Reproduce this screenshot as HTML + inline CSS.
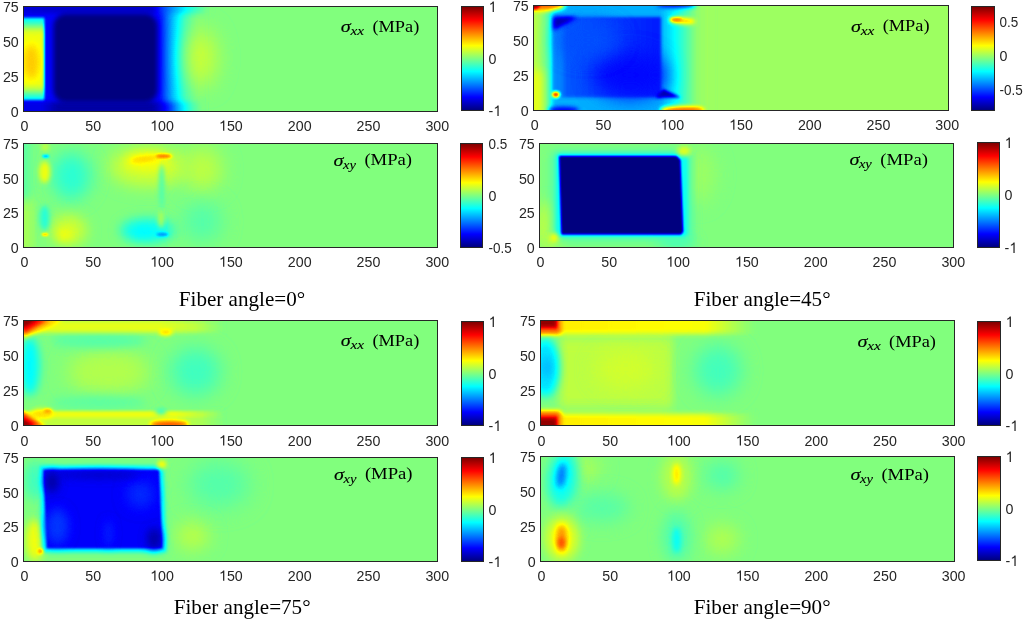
<!DOCTYPE html>
<html><head><meta charset="utf-8"><style>
html,body{margin:0;padding:0;background:#fff;}
body{width:1024px;height:630px;position:relative;overflow:hidden;font-family:"Liberation Sans",sans-serif;color:#262626;}
.ax{position:absolute;box-sizing:border-box;border:1px solid #262626;}
.hm{position:absolute;display:block;}
.cb{position:absolute;box-sizing:border-box;border:1px solid #262626;
background:linear-gradient(to bottom,#800000 0%,#ff0000 12.5%,#ff8000 25%,#ffff00 37.5%,#80ff80 50%,#00ffff 62.5%,#0080ff 75%,#0000ff 87.5%,#000080 100%);}
</style></head><body>
<svg width="0" height="0" style="position:absolute">
<defs>
<filter id="jet" x="0" y="0" width="100%" height="100%" color-interpolation-filters="sRGB">
<feComponentTransfer>
<feFuncR type="table" tableValues="0 0 0 0 0.5 1 1 1 0.5"/>
<feFuncG type="table" tableValues="0 0 0.5 1 1 1 0.5 0 0"/>
<feFuncB type="table" tableValues="0.5 1 1 1 0.5 0 0 0 0"/>
</feComponentTransfer>
</filter>
<filter id="b0_9x1_2" filterUnits="userSpaceOnUse" x="-200" y="-200" width="700" height="475" color-interpolation-filters="sRGB"><feGaussianBlur stdDeviation="0.9 1.2"/></filter>
<filter id="b0_9x3_5" filterUnits="userSpaceOnUse" x="-200" y="-200" width="700" height="475" color-interpolation-filters="sRGB"><feGaussianBlur stdDeviation="0.9 3.5"/></filter>
<filter id="b3x5" filterUnits="userSpaceOnUse" x="-200" y="-200" width="700" height="475" color-interpolation-filters="sRGB"><feGaussianBlur stdDeviation="3 5"/></filter>
<filter id="b0_7" filterUnits="userSpaceOnUse" x="-200" y="-200" width="700" height="475" color-interpolation-filters="sRGB"><feGaussianBlur stdDeviation="0.7"/></filter>
<filter id="b0_8" filterUnits="userSpaceOnUse" x="-200" y="-200" width="700" height="475" color-interpolation-filters="sRGB"><feGaussianBlur stdDeviation="0.8"/></filter>
<filter id="b1" filterUnits="userSpaceOnUse" x="-200" y="-200" width="700" height="475" color-interpolation-filters="sRGB"><feGaussianBlur stdDeviation="1"/></filter>
<filter id="b1_2" filterUnits="userSpaceOnUse" x="-200" y="-200" width="700" height="475" color-interpolation-filters="sRGB"><feGaussianBlur stdDeviation="1.2"/></filter>
<filter id="b1_3" filterUnits="userSpaceOnUse" x="-200" y="-200" width="700" height="475" color-interpolation-filters="sRGB"><feGaussianBlur stdDeviation="1.3"/></filter>
<filter id="b1_5" filterUnits="userSpaceOnUse" x="-200" y="-200" width="700" height="475" color-interpolation-filters="sRGB"><feGaussianBlur stdDeviation="1.5"/></filter>
<filter id="b2" filterUnits="userSpaceOnUse" x="-200" y="-200" width="700" height="475" color-interpolation-filters="sRGB"><feGaussianBlur stdDeviation="2"/></filter>
<filter id="b2_2" filterUnits="userSpaceOnUse" x="-200" y="-200" width="700" height="475" color-interpolation-filters="sRGB"><feGaussianBlur stdDeviation="2.2"/></filter>
<filter id="b2_5" filterUnits="userSpaceOnUse" x="-200" y="-200" width="700" height="475" color-interpolation-filters="sRGB"><feGaussianBlur stdDeviation="2.5"/></filter>
<filter id="b3" filterUnits="userSpaceOnUse" x="-200" y="-200" width="700" height="475" color-interpolation-filters="sRGB"><feGaussianBlur stdDeviation="3"/></filter>
<filter id="b3_5" filterUnits="userSpaceOnUse" x="-200" y="-200" width="700" height="475" color-interpolation-filters="sRGB"><feGaussianBlur stdDeviation="3.5"/></filter>
<filter id="b4" filterUnits="userSpaceOnUse" x="-200" y="-200" width="700" height="475" color-interpolation-filters="sRGB"><feGaussianBlur stdDeviation="4"/></filter>
<filter id="b5" filterUnits="userSpaceOnUse" x="-200" y="-200" width="700" height="475" color-interpolation-filters="sRGB"><feGaussianBlur stdDeviation="5"/></filter>
<filter id="b6" filterUnits="userSpaceOnUse" x="-200" y="-200" width="700" height="475" color-interpolation-filters="sRGB"><feGaussianBlur stdDeviation="6"/></filter>
<filter id="b7" filterUnits="userSpaceOnUse" x="-200" y="-200" width="700" height="475" color-interpolation-filters="sRGB"><feGaussianBlur stdDeviation="7"/></filter>
<filter id="b8" filterUnits="userSpaceOnUse" x="-200" y="-200" width="700" height="475" color-interpolation-filters="sRGB"><feGaussianBlur stdDeviation="8"/></filter>
</defs></svg>
<svg class="hm" style="left:23px;top:6px;width:414px;height:105px" viewBox="0 0 300 75" preserveAspectRatio="none"><g filter="url(#jet)"><rect x="-5" y="-5" width="310" height="85" fill="#808080"/><g transform="translate(0,75) scale(1,-1)"><defs><linearGradient id="g1" x1="0" y1="0" x2="1" y2="0"><stop offset="0.0" stop-color="#212121"/><stop offset="0.7704" stop-color="#212121"/><stop offset="0.8222" stop-color="#454545"/><stop offset="0.8667" stop-color="#5e5e5e"/><stop offset="0.9111" stop-color="#737373"/><stop offset="0.9704" stop-color="#808080"/></linearGradient></defs><rect x="-5" y="-5" width="135" height="85" fill="url(#g1)" filter="url(#b2)"/><ellipse cx="129" cy="38" rx="10" ry="20" fill="#959595" filter="url(#b8)"/><defs><linearGradient id="g2" x1="0" y1="0" x2="1" y2="0"><stop offset="0.0" stop-color="#171717"/><stop offset="0.1643" stop-color="#141414"/><stop offset="0.7071" stop-color="#141414"/><stop offset="0.7643" stop-color="#333333"/><stop offset="0.8357" stop-color="#4f4f4f"/><stop offset="0.9071" stop-color="#696969"/><stop offset="1.0" stop-color="#808080"/></linearGradient></defs><rect x="-5" y="69.5" width="140" height="11" fill="url(#g2)" filter="url(#b2)"/><defs><linearGradient id="g3" x1="0" y1="0" x2="1" y2="0"><stop offset="0.0" stop-color="#1a1a1a"/><stop offset="0.1407" stop-color="#1a1a1a"/><stop offset="0.2148" stop-color="#0a0a0a"/><stop offset="0.7407" stop-color="#0a0a0a"/><stop offset="0.8148" stop-color="#262626"/><stop offset="0.8815" stop-color="#545454"/><stop offset="0.9407" stop-color="#707070"/><stop offset="1.0" stop-color="#808080"/></linearGradient></defs><rect x="-5" y="-5" width="135" height="11.5" fill="url(#g3)" filter="url(#b2)"/><rect x="22" y="6" width="75.5" height="63.5" rx="9" fill="#000000" filter="url(#b2)"/><rect x="-5" y="8" width="20.5" height="58.5" rx="0" fill="#606060" filter="url(#b0_9x1_2)"/><rect x="-5" y="13.5" width="20" height="47" rx="0" fill="#9c9c9c" filter="url(#b0_9x3_5)"/><defs><clipPath id="c4"><rect x="-5" y="-5" width="20" height="85"/></clipPath></defs><g clip-path="url(#c4)"><ellipse cx="6" cy="35" rx="6" ry="13" fill="#adadad" filter="url(#b3)"/></g></g></g></svg>
<div class="ax" style="left:23px;top:6px;width:415px;height:106px"></div>
<div class="cb" style="left:461px;top:6px;width:23px;height:105px"></div>
<svg class="hm" style="left:23px;top:143px;width:414px;height:104px" viewBox="0 0 300 75" preserveAspectRatio="none"><g filter="url(#jet)"><rect x="-5" y="-5" width="310" height="85" fill="#808080"/><g transform="translate(0,75) scale(1,-1)"><rect x="-5" y="-5" width="12" height="40" rx="0" fill="#8a8a8a" filter="url(#b4)"/><rect x="-5" y="35" width="10" height="45" rx="0" fill="#757575" filter="url(#b4)"/><ellipse cx="35" cy="51" rx="14" ry="17" fill="#6a6a6a" filter="url(#b6)"/><ellipse cx="33" cy="12" rx="13" ry="11" fill="#949494" filter="url(#b5)"/><ellipse cx="30" cy="9" rx="5" ry="4" fill="#9e9e9e" filter="url(#b3)"/><ellipse cx="91" cy="58" rx="28" ry="14" fill="#959595" filter="url(#b6)"/><ellipse cx="90" cy="62" rx="16" ry="6" fill="#9e9e9e" filter="url(#b3)"/><ellipse cx="90" cy="12" rx="20" ry="9" fill="#666666" filter="url(#b4)"/><ellipse cx="88" cy="11" rx="10" ry="4" fill="#5e5e5e" filter="url(#b3)"/><ellipse cx="130" cy="56" rx="14" ry="16" fill="#8f8f8f" filter="url(#b7)"/><ellipse cx="130" cy="18" rx="14" ry="14" fill="#747474" filter="url(#b7)"/><ellipse cx="15.7" cy="54" rx="4" ry="8" fill="#9c9c9c" filter="url(#b2)"/><ellipse cx="15.7" cy="21" rx="3.5" ry="9" fill="#696969" filter="url(#b2)"/><ellipse cx="16" cy="72" rx="3" ry="3" fill="#8f8f8f" filter="url(#b1_5)"/><ellipse cx="100.5" cy="44" rx="2" ry="16" fill="#737373" filter="url(#b1_5)"/><ellipse cx="100" cy="20" rx="2" ry="6" fill="#8c8c8c" filter="url(#b1_5)"/><ellipse cx="88" cy="63.5" rx="10" ry="2" fill="#ababab" filter="url(#b1_5)" transform="rotate(8 88 63.5)"/><ellipse cx="102" cy="65.5" rx="6" ry="1.4" fill="#c7c7c7" filter="url(#b1)"/><ellipse cx="101" cy="9" rx="4.5" ry="1.2" fill="#3d3d3d" filter="url(#b1)"/><ellipse cx="16.5" cy="65.5" rx="2.5" ry="0.9" fill="#424242" filter="url(#b0_7)"/><ellipse cx="16" cy="9" rx="2.5" ry="0.9" fill="#b8b8b8" filter="url(#b0_7)"/></g></g></svg>
<div class="ax" style="left:23px;top:143px;width:415px;height:105px"></div>
<div class="cb" style="left:460px;top:143px;width:23px;height:105px"></div>
<svg class="hm" style="left:533px;top:5px;width:415px;height:105px" viewBox="0 0 300 75" preserveAspectRatio="none"><g filter="url(#jet)"><rect x="-5" y="-5" width="310" height="85" fill="#878787"/><g transform="translate(0,75) scale(1,-1)"><defs><linearGradient id="g5" x1="0" y1="0" x2="1" y2="0"><stop offset="0.0" stop-color="#8f8f8f"/><stop offset="0.0667" stop-color="#8c8c8c"/><stop offset="0.1037" stop-color="#7d7d7d"/><stop offset="0.1333" stop-color="#6b6b6b"/><stop offset="0.1459" stop-color="#4c4c4c"/><stop offset="0.7185" stop-color="#4c4c4c"/><stop offset="0.763" stop-color="#575757"/><stop offset="0.8" stop-color="#616161"/><stop offset="0.8593" stop-color="#737373"/><stop offset="0.9185" stop-color="#858585"/><stop offset="0.9704" stop-color="#878787"/></linearGradient></defs><rect x="-5" y="-5" width="135" height="85" fill="url(#g5)" filter="url(#b1_5)"/><rect x="-5" y="-5" width="12" height="33" rx="0" fill="#999999" filter="url(#b3)"/><defs><linearGradient id="g6" x1="0" y1="0" x2="1" y2="0"><stop offset="0.0" stop-color="#424242"/><stop offset="0.081" stop-color="#404040"/><stop offset="0.1195" stop-color="#363636"/><stop offset="0.4537" stop-color="#303030"/><stop offset="1.0" stop-color="#262626"/></linearGradient></defs><rect x="14.7" y="9" width="77.8" height="57.5" fill="url(#g6)" filter="url(#b1)"/><ellipse cx="70" cy="25" rx="27" ry="16" fill="#222222" filter="url(#b7)"/><ellipse cx="40" cy="50" rx="22" ry="12" fill="#343434" filter="url(#b7)"/><polygon points="14.7,66.5 32,66.5 24,62 14.7,57" fill="#0d0d0d" filter="url(#b1_5)"/><polygon points="89,9 107,9 94,15" fill="#0d0d0d" filter="url(#b1)"/><ellipse cx="16.5" cy="11" rx="2.8" ry="2.2" fill="#d1d1d1" filter="url(#b1_2)"/><ellipse cx="8" cy="75" rx="15" ry="4" fill="#c7c7c7" filter="url(#b2)"/><ellipse cx="0" cy="75" rx="5" ry="3" fill="#f7f7f7" filter="url(#b1)"/><ellipse cx="108" cy="63.8" rx="9.5" ry="2.3" fill="#b0b0b0" filter="url(#b1_5)" transform="rotate(-4 108 63.8)"/><ellipse cx="103.5" cy="64.5" rx="4.5" ry="1.4" fill="#c2c2c2" filter="url(#b1)"/><ellipse cx="108" cy="0" rx="16" ry="2.5" fill="#cccccc" filter="url(#b1_5)"/><ellipse cx="22" cy="0" rx="11" ry="2.2" fill="#1a1a1a" filter="url(#b1_5)"/><ellipse cx="104" cy="75" rx="14" ry="2" fill="#1a1a1a" filter="url(#b1_5)"/></g></g></svg>
<div class="ax" style="left:533px;top:5px;width:416px;height:106px"></div>
<div class="cb" style="left:971px;top:6px;width:24px;height:105px"></div>
<svg class="hm" style="left:539px;top:143px;width:414px;height:104px" viewBox="0 0 300 75" preserveAspectRatio="none"><g filter="url(#jet)"><rect x="-5" y="-5" width="310" height="85" fill="#808080"/><g transform="translate(0,75) scale(1,-1)"><ellipse cx="8" cy="15" rx="10" ry="18" fill="#8f8f8f" filter="url(#b5)"/><ellipse cx="113" cy="52" rx="14" ry="20" fill="#878787" filter="url(#b7)"/><ellipse cx="100" cy="3" rx="14" ry="5" fill="#737373" filter="url(#b4)"/><rect x="9" y="5" width="102" height="64" rx="4" fill="#707070" filter="url(#b3)"/><rect x="12.5" y="7.5" width="95" height="60" rx="3" fill="#636363" filter="url(#b1_2)"/><polygon points="14.6,65.7 100,65.7 102.5,63 104.5,11 103,9.1 16.2,9.1" fill="#000000" filter="url(#b0_7)"/><ellipse cx="105" cy="69" rx="5" ry="3.5" fill="#999999" filter="url(#b2)"/><ellipse cx="11" cy="6.8" rx="3" ry="3" fill="#a3a3a3" filter="url(#b2)"/></g></g></svg>
<div class="ax" style="left:539px;top:143px;width:415px;height:105px"></div>
<div class="cb" style="left:977px;top:142px;width:23px;height:106px"></div>
<svg class="hm" style="left:23px;top:320px;width:414px;height:105px" viewBox="0 0 300 75" preserveAspectRatio="none"><g filter="url(#jet)"><rect x="-5" y="-5" width="310" height="85" fill="#808080"/><g transform="translate(0,75) scale(1,-1)"><ellipse cx="125" cy="38" rx="18" ry="17" fill="#6f6f6f" filter="url(#b7)"/><ellipse cx="62" cy="38" rx="30" ry="16" fill="#8c8c8c" filter="url(#b7)"/><ellipse cx="55" cy="60" rx="35" ry="5" fill="#757575" filter="url(#b3)"/><ellipse cx="55" cy="16" rx="35" ry="5" fill="#777777" filter="url(#b3)"/><ellipse cx="5" cy="42" rx="7" ry="21" fill="#5e5e5e" filter="url(#b3_5)"/><defs><linearGradient id="g7" x1="0" y1="0" x2="1" y2="0"><stop offset="0.0" stop-color="#999999"/><stop offset="0.7" stop-color="#999999"/><stop offset="0.8667" stop-color="#8f8f8f"/><stop offset="1.0" stop-color="#808080"/></linearGradient></defs><rect x="-5" y="66" width="150" height="14" fill="url(#g7)" filter="url(#b1_5)"/><defs><linearGradient id="g8" x1="0" y1="0" x2="1" y2="0"><stop offset="0.0" stop-color="#8f8f8f"/><stop offset="0.7" stop-color="#8f8f8f"/><stop offset="0.8667" stop-color="#878787"/><stop offset="1.0" stop-color="#808080"/></linearGradient></defs><rect x="-5" y="73.5" width="150" height="6" fill="url(#g8)" filter="url(#b1)"/><defs><linearGradient id="g9" x1="0" y1="0" x2="1" y2="0"><stop offset="0.0" stop-color="#909090"/><stop offset="0.7667" stop-color="#909090"/><stop offset="0.9" stop-color="#8a8a8a"/><stop offset="1.0" stop-color="#808080"/></linearGradient></defs><rect x="-5" y="-5" width="150" height="14.5" fill="url(#g9)" filter="url(#b1_5)"/><defs><linearGradient id="g10" x1="0" y1="0" x2="1" y2="0"><stop offset="0.0" stop-color="#9c9c9c"/><stop offset="0.7667" stop-color="#9c9c9c"/><stop offset="0.9" stop-color="#8f8f8f"/><stop offset="1.0" stop-color="#808080"/></linearGradient></defs><rect x="-5" y="5.5" width="150" height="4" fill="url(#g10)" filter="url(#b1_2)"/><polygon points="-2,76 30,76 0,62" fill="#b2b2b2" filter="url(#b2)"/><polygon points="-2,76 19,76 0,65" fill="#e0e0e0" filter="url(#b1_5)"/><polygon points="-2,76 12,76 -1,69" fill="#fafafa" filter="url(#b1_2)"/><ellipse cx="14" cy="8" rx="8" ry="3.5" fill="#a8a8a8" filter="url(#b2)"/><polygon points="-2,-1 16,-1 -2,10" fill="#dbdbdb" filter="url(#b1_5)"/><polygon points="-2,-1 9,-1 -2,5.5" fill="#fafafa" filter="url(#b1)"/><ellipse cx="18" cy="10" rx="3" ry="1.5" fill="#b8b8b8" filter="url(#b1_2)"/><ellipse cx="103.4" cy="66" rx="5" ry="2" fill="#adadad" filter="url(#b1_5)"/><ellipse cx="106" cy="0.5" rx="14" ry="2.5" fill="#cccccc" filter="url(#b1_5)"/><ellipse cx="100" cy="9.5" rx="4" ry="2" fill="#6b6b6b" filter="url(#b1_5)"/></g></g></svg>
<div class="ax" style="left:23px;top:320px;width:415px;height:106px"></div>
<div class="cb" style="left:461px;top:321px;width:23px;height:105px"></div>
<svg class="hm" style="left:23px;top:457px;width:414px;height:104px" viewBox="0 0 300 75" preserveAspectRatio="none"><g filter="url(#jet)"><rect x="-5" y="-5" width="310" height="85" fill="#808080"/><g transform="translate(0,75) scale(1,-1)"><ellipse cx="9" cy="15" rx="7" ry="15" fill="#9c9c9c" filter="url(#b3)"/><ellipse cx="8" cy="58" rx="7" ry="14" fill="#707070" filter="url(#b4)"/><ellipse cx="142" cy="55" rx="22" ry="16" fill="#747474" filter="url(#b8)"/><ellipse cx="123" cy="18" rx="12" ry="10" fill="#8e8e8e" filter="url(#b6)"/><polygon points="12.2,68.4 101.2,68.4 103.6,6.6 14.6,6.6" fill="#6b6b6b" filter="url(#b2_5)"/><polygon points="12.2,68.4 101.2,68.4 103.6,6.6 14.6,6.6" fill="#5e5e5e" filter="url(#b1_2)"/><polygon points="14.7,65.9 98.7,65.9 101.1,9.1 17.1,9.1" fill="#1f1f1f" filter="url(#b0_8)"/><ellipse cx="25" cy="25" rx="8" ry="13" fill="#2e2e2e" filter="url(#b4)"/><ellipse cx="85" cy="48" rx="10" ry="10" fill="#2b2b2b" filter="url(#b5)"/><ellipse cx="62" cy="20" rx="3" ry="10" fill="#292929" filter="url(#b3)"/><ellipse cx="55" cy="62" rx="30" ry="3" fill="#141414" filter="url(#b2_5)"/><ellipse cx="21" cy="57" rx="5" ry="8" fill="#0a0a0a" filter="url(#b3)"/><ellipse cx="95" cy="16" rx="5" ry="8" fill="#0a0a0a" filter="url(#b3)"/><ellipse cx="12.6" cy="7" rx="2" ry="2" fill="#b8b8b8" filter="url(#b1_2)"/><ellipse cx="100.6" cy="69.6" rx="3.5" ry="3" fill="#9e9e9e" filter="url(#b1_5)"/></g></g></svg>
<div class="ax" style="left:23px;top:457px;width:415px;height:105px"></div>
<div class="cb" style="left:461px;top:457px;width:23px;height:105px"></div>
<svg class="hm" style="left:540px;top:320px;width:414px;height:105px" viewBox="0 0 300 75" preserveAspectRatio="none"><g filter="url(#jet)"><rect x="-5" y="-5" width="310" height="85" fill="#808080"/><g transform="translate(0,75) scale(1,-1)"><ellipse cx="129" cy="39" rx="17" ry="18" fill="#707070" filter="url(#b7)"/><rect x="14" y="12" width="82" height="52" rx="0" fill="#8f8f8f" filter="url(#b3x5)"/><ellipse cx="62" cy="40" rx="22" ry="14" fill="#949494" filter="url(#b7)"/><defs><linearGradient id="g11" x1="0" y1="0" x2="1" y2="0"><stop offset="0.0" stop-color="#a8a8a8"/><stop offset="0.1562" stop-color="#a3a3a3"/><stop offset="0.7812" stop-color="#9e9e9e"/><stop offset="0.9062" stop-color="#8c8c8c"/><stop offset="1.0" stop-color="#808080"/></linearGradient></defs><rect x="-5" y="65" width="160" height="15" fill="url(#g11)" filter="url(#b2)"/><defs><linearGradient id="g12" x1="0" y1="0" x2="1" y2="0"><stop offset="0.0" stop-color="#a8a8a8"/><stop offset="0.1562" stop-color="#a3a3a3"/><stop offset="0.7812" stop-color="#9e9e9e"/><stop offset="0.9062" stop-color="#8c8c8c"/><stop offset="1.0" stop-color="#808080"/></linearGradient></defs><rect x="-5" y="-5" width="160" height="13" fill="url(#g12)" filter="url(#b2)"/><ellipse cx="4" cy="41" rx="10" ry="21" fill="#595959" filter="url(#b3)"/><ellipse cx="5" cy="41" rx="3" ry="8" fill="#4c4c4c" filter="url(#b3)"/><rect x="-5" y="65" width="20" height="15" rx="0" fill="#c7c7c7" filter="url(#b2)"/><rect x="-5" y="69" width="17.5" height="11" rx="0" fill="#ebebeb" filter="url(#b1_3)"/><rect x="-5" y="71" width="16" height="9" rx="0" fill="#fafafa" filter="url(#b1)"/><rect x="-5" y="-5" width="20" height="15" rx="0" fill="#c7c7c7" filter="url(#b2)"/><rect x="-5" y="-5" width="17.5" height="11" rx="0" fill="#ebebeb" filter="url(#b1_3)"/><rect x="-5" y="-5" width="16" height="9" rx="0" fill="#fafafa" filter="url(#b1)"/></g></g></svg>
<div class="ax" style="left:540px;top:320px;width:415px;height:106px"></div>
<div class="cb" style="left:977px;top:321px;width:24px;height:105px"></div>
<svg class="hm" style="left:540px;top:456px;width:414px;height:105px" viewBox="0 0 300 75" preserveAspectRatio="none"><g filter="url(#jet)"><rect x="-5" y="-5" width="310" height="85" fill="#808080"/><g transform="translate(0,75) scale(1,-1)"><ellipse cx="30" cy="66" rx="14" ry="9" fill="#8a8a8a" filter="url(#b6)"/><ellipse cx="45" cy="38" rx="20" ry="10" fill="#757575" filter="url(#b6)"/><ellipse cx="132" cy="61" rx="12" ry="10" fill="#737373" filter="url(#b6)"/><ellipse cx="132" cy="15.5" rx="12" ry="10" fill="#8c8c8c" filter="url(#b6)"/><ellipse cx="16.5" cy="59" rx="11" ry="20" fill="#636363" filter="url(#b4)" transform="rotate(-8 16.5 59)"/><ellipse cx="15.5" cy="61" rx="3" ry="9" fill="#383838" filter="url(#b2_2)" transform="rotate(-8 15.5 61)"/><ellipse cx="16" cy="16" rx="12" ry="16" fill="#999999" filter="url(#b4)"/><ellipse cx="15.7" cy="16" rx="4" ry="10" fill="#bdbdbd" filter="url(#b2_2)"/><ellipse cx="15.5" cy="13" rx="2.5" ry="4" fill="#cccccc" filter="url(#b1_5)"/><ellipse cx="99" cy="60" rx="10" ry="17" fill="#8f8f8f" filter="url(#b5)"/><ellipse cx="99" cy="62" rx="2.5" ry="7.5" fill="#a8a8a8" filter="url(#b2)"/><ellipse cx="99" cy="17" rx="10" ry="18" fill="#737373" filter="url(#b5)"/><ellipse cx="99" cy="15" rx="3" ry="9" fill="#616161" filter="url(#b2)"/></g></g></svg>
<div class="ax" style="left:540px;top:456px;width:415px;height:106px"></div>
<div class="cb" style="left:977px;top:456px;width:24px;height:105px"></div>
<svg style="position:absolute;left:0;top:0;opacity:0.999" width="1024" height="630" viewBox="0 0 1024 630"><defs><path id="one" fill="#262626" d="M763 0L582 0L582 1140C520 1085 400 1020 221 960L221 1120C400 1190 560 1300 610 1409L763 1409Z"/></defs><style>.tk{font-family:"Liberation Sans",sans-serif;font-size:15px;fill:#262626}.sg{font-family:"Liberation Serif",serif;font-style:italic;font-size:16px;fill:#000;stroke:#000;stroke-width:0.15px}.sb{font-family:"Liberation Serif",serif;font-style:italic;font-size:12px;fill:#000;stroke:#000;stroke-width:0.1px}.mp{font-family:"Liberation Serif",serif;font-size:16px;fill:#000}.ttl{font-family:"Liberation Serif",serif;font-size:21.5px;fill:#000}</style><g transform="translate(20.54,130.80) scale(0.95,1)"><text class="tk" x="0.00" y="0">0</text></g>
<g transform="translate(85.37,130.80) scale(0.95,1)"><text class="tk" x="0.00" y="0">50</text></g>
<g transform="translate(150.21,130.80) scale(0.95,1)"><use href="#one" transform="translate(0.00,0) scale(0.007324,-0.007324)"/><text class="tk" x="8.34" y="0">00</text></g>
<g transform="translate(219.01,130.80) scale(0.95,1)"><use href="#one" transform="translate(0.00,0) scale(0.007324,-0.007324)"/><text class="tk" x="8.34" y="0">50</text></g>
<g transform="translate(287.81,130.80) scale(0.95,1)"><text class="tk" x="0.00" y="0">200</text></g>
<g transform="translate(356.61,130.80) scale(0.95,1)"><text class="tk" x="0.00" y="0">250</text></g>
<g transform="translate(425.41,130.80) scale(0.95,1)"><text class="tk" x="0.00" y="0">300</text></g>
<g transform="translate(10.87,116.90) scale(0.95,1)"><text class="tk" x="0.00" y="0">0</text></g>
<g transform="translate(2.95,81.90) scale(0.95,1)"><text class="tk" x="0.00" y="0">25</text></g>
<g transform="translate(2.95,46.90) scale(0.95,1)"><text class="tk" x="0.00" y="0">50</text></g>
<g transform="translate(2.95,11.90) scale(0.95,1)"><text class="tk" x="0.00" y="0">75</text></g>
<g transform="translate(488.60,11.90) scale(0.95,1)"><use href="#one" transform="translate(0.00,0) scale(0.007324,-0.007324)"/></g>
<g transform="translate(488.60,63.90) scale(0.95,1)"><text class="tk" x="0.00" y="0">0</text></g>
<g transform="translate(488.60,115.90) scale(0.95,1)"><text class="tk" x="0.00" y="0">-</text><use href="#one" transform="translate(5.00,0) scale(0.007324,-0.007324)"/></g>
<text class="sg" x="340.7" y="31.8" textLength="10" lengthAdjust="spacingAndGlyphs">&#963;</text>
<text class="sb" x="350.5" y="34.8" textLength="13.6" lengthAdjust="spacingAndGlyphs">xx</text>
<text class="mp" x="372.4" y="31.5" textLength="46.9" lengthAdjust="spacingAndGlyphs">(MPa)</text>
<g transform="translate(20.54,266.80) scale(0.95,1)"><text class="tk" x="0.00" y="0">0</text></g>
<g transform="translate(85.37,266.80) scale(0.95,1)"><text class="tk" x="0.00" y="0">50</text></g>
<g transform="translate(150.21,266.80) scale(0.95,1)"><use href="#one" transform="translate(0.00,0) scale(0.007324,-0.007324)"/><text class="tk" x="8.34" y="0">00</text></g>
<g transform="translate(219.01,266.80) scale(0.95,1)"><use href="#one" transform="translate(0.00,0) scale(0.007324,-0.007324)"/><text class="tk" x="8.34" y="0">50</text></g>
<g transform="translate(287.81,266.80) scale(0.95,1)"><text class="tk" x="0.00" y="0">200</text></g>
<g transform="translate(356.61,266.80) scale(0.95,1)"><text class="tk" x="0.00" y="0">250</text></g>
<g transform="translate(425.41,266.80) scale(0.95,1)"><text class="tk" x="0.00" y="0">300</text></g>
<g transform="translate(10.87,252.90) scale(0.95,1)"><text class="tk" x="0.00" y="0">0</text></g>
<g transform="translate(2.95,218.23) scale(0.95,1)"><text class="tk" x="0.00" y="0">25</text></g>
<g transform="translate(2.95,183.57) scale(0.95,1)"><text class="tk" x="0.00" y="0">50</text></g>
<g transform="translate(2.95,148.90) scale(0.95,1)"><text class="tk" x="0.00" y="0">75</text></g>
<g transform="translate(488.40,148.90) scale(0.9,1)"><text class="tk" x="0.00" y="0">0.5</text></g>
<g transform="translate(488.40,200.90) scale(0.95,1)"><text class="tk" x="0.00" y="0">0</text></g>
<g transform="translate(488.40,252.90) scale(0.9,1)"><text class="tk" x="0.00" y="0">-0.5</text></g>
<text class="sg" x="333.5" y="165.5" textLength="10" lengthAdjust="spacingAndGlyphs">&#963;</text>
<text class="sb" x="343.0" y="168.5" textLength="12.9" lengthAdjust="spacingAndGlyphs">xy</text>
<text class="mp" x="364.4" y="165.2" textLength="47.7" lengthAdjust="spacingAndGlyphs">(MPa)</text>
<g transform="translate(530.84,129.80) scale(0.95,1)"><text class="tk" x="0.00" y="0">0</text></g>
<g transform="translate(595.62,129.80) scale(0.95,1)"><text class="tk" x="0.00" y="0">50</text></g>
<g transform="translate(660.40,129.80) scale(0.95,1)"><use href="#one" transform="translate(0.00,0) scale(0.007324,-0.007324)"/><text class="tk" x="8.34" y="0">00</text></g>
<g transform="translate(729.14,129.80) scale(0.95,1)"><use href="#one" transform="translate(0.00,0) scale(0.007324,-0.007324)"/><text class="tk" x="8.34" y="0">50</text></g>
<g transform="translate(797.88,129.80) scale(0.95,1)"><text class="tk" x="0.00" y="0">200</text></g>
<g transform="translate(866.62,129.80) scale(0.95,1)"><text class="tk" x="0.00" y="0">250</text></g>
<g transform="translate(935.36,129.80) scale(0.95,1)"><text class="tk" x="0.00" y="0">300</text></g>
<g transform="translate(520.87,115.90) scale(0.95,1)"><text class="tk" x="0.00" y="0">0</text></g>
<g transform="translate(512.95,80.90) scale(0.95,1)"><text class="tk" x="0.00" y="0">25</text></g>
<g transform="translate(512.95,45.90) scale(0.95,1)"><text class="tk" x="0.00" y="0">50</text></g>
<g transform="translate(512.95,10.90) scale(0.95,1)"><text class="tk" x="0.00" y="0">75</text></g>
<g transform="translate(999.60,26.71) scale(0.9,1)"><text class="tk" x="0.00" y="0">0.5</text></g>
<g transform="translate(999.60,60.63) scale(0.95,1)"><text class="tk" x="0.00" y="0">0</text></g>
<g transform="translate(999.60,94.55) scale(0.9,1)"><text class="tk" x="0.00" y="0">-0.5</text></g>
<text class="sg" x="851.0" y="31.5" textLength="10" lengthAdjust="spacingAndGlyphs">&#963;</text>
<text class="sb" x="860.8" y="34.5" textLength="13.6" lengthAdjust="spacingAndGlyphs">xx</text>
<text class="mp" x="882.7" y="31.2" textLength="46.9" lengthAdjust="spacingAndGlyphs">(MPa)</text>
<g transform="translate(536.54,266.80) scale(0.95,1)"><text class="tk" x="0.00" y="0">0</text></g>
<g transform="translate(601.37,266.80) scale(0.95,1)"><text class="tk" x="0.00" y="0">50</text></g>
<g transform="translate(666.21,266.80) scale(0.95,1)"><use href="#one" transform="translate(0.00,0) scale(0.007324,-0.007324)"/><text class="tk" x="8.34" y="0">00</text></g>
<g transform="translate(735.01,266.80) scale(0.95,1)"><use href="#one" transform="translate(0.00,0) scale(0.007324,-0.007324)"/><text class="tk" x="8.34" y="0">50</text></g>
<g transform="translate(803.81,266.80) scale(0.95,1)"><text class="tk" x="0.00" y="0">200</text></g>
<g transform="translate(872.61,266.80) scale(0.95,1)"><text class="tk" x="0.00" y="0">250</text></g>
<g transform="translate(941.41,266.80) scale(0.95,1)"><text class="tk" x="0.00" y="0">300</text></g>
<g transform="translate(526.87,252.90) scale(0.95,1)"><text class="tk" x="0.00" y="0">0</text></g>
<g transform="translate(518.95,218.23) scale(0.95,1)"><text class="tk" x="0.00" y="0">25</text></g>
<g transform="translate(518.95,183.57) scale(0.95,1)"><text class="tk" x="0.00" y="0">50</text></g>
<g transform="translate(518.95,148.90) scale(0.95,1)"><text class="tk" x="0.00" y="0">75</text></g>
<g transform="translate(1004.60,147.90) scale(0.95,1)"><use href="#one" transform="translate(0.00,0) scale(0.007324,-0.007324)"/></g>
<g transform="translate(1004.60,200.40) scale(0.95,1)"><text class="tk" x="0.00" y="0">0</text></g>
<g transform="translate(1004.60,252.90) scale(0.95,1)"><text class="tk" x="0.00" y="0">-</text><use href="#one" transform="translate(5.00,0) scale(0.007324,-0.007324)"/></g>
<text class="sg" x="849.4" y="165.2" textLength="10" lengthAdjust="spacingAndGlyphs">&#963;</text>
<text class="sb" x="858.9" y="168.2" textLength="12.9" lengthAdjust="spacingAndGlyphs">xy</text>
<text class="mp" x="880.3" y="164.9" textLength="47.7" lengthAdjust="spacingAndGlyphs">(MPa)</text>
<g transform="translate(20.54,445.50) scale(0.95,1)"><text class="tk" x="0.00" y="0">0</text></g>
<g transform="translate(85.37,445.50) scale(0.95,1)"><text class="tk" x="0.00" y="0">50</text></g>
<g transform="translate(150.21,445.50) scale(0.95,1)"><use href="#one" transform="translate(0.00,0) scale(0.007324,-0.007324)"/><text class="tk" x="8.34" y="0">00</text></g>
<g transform="translate(219.01,445.50) scale(0.95,1)"><use href="#one" transform="translate(0.00,0) scale(0.007324,-0.007324)"/><text class="tk" x="8.34" y="0">50</text></g>
<g transform="translate(287.81,445.50) scale(0.95,1)"><text class="tk" x="0.00" y="0">200</text></g>
<g transform="translate(356.61,445.50) scale(0.95,1)"><text class="tk" x="0.00" y="0">250</text></g>
<g transform="translate(425.41,445.50) scale(0.95,1)"><text class="tk" x="0.00" y="0">300</text></g>
<g transform="translate(10.87,430.90) scale(0.95,1)"><text class="tk" x="0.00" y="0">0</text></g>
<g transform="translate(2.95,395.90) scale(0.95,1)"><text class="tk" x="0.00" y="0">25</text></g>
<g transform="translate(2.95,360.90) scale(0.95,1)"><text class="tk" x="0.00" y="0">50</text></g>
<g transform="translate(2.95,325.90) scale(0.95,1)"><text class="tk" x="0.00" y="0">75</text></g>
<g transform="translate(488.60,326.90) scale(0.95,1)"><use href="#one" transform="translate(0.00,0) scale(0.007324,-0.007324)"/></g>
<g transform="translate(488.60,378.90) scale(0.95,1)"><text class="tk" x="0.00" y="0">0</text></g>
<g transform="translate(488.60,430.90) scale(0.95,1)"><text class="tk" x="0.00" y="0">-</text><use href="#one" transform="translate(5.00,0) scale(0.007324,-0.007324)"/></g>
<text class="sg" x="340.7" y="346.4" textLength="10" lengthAdjust="spacingAndGlyphs">&#963;</text>
<text class="sb" x="350.5" y="349.4" textLength="13.6" lengthAdjust="spacingAndGlyphs">xx</text>
<text class="mp" x="372.4" y="346.1" textLength="46.9" lengthAdjust="spacingAndGlyphs">(MPa)</text>
<g transform="translate(20.54,580.80) scale(0.95,1)"><text class="tk" x="0.00" y="0">0</text></g>
<g transform="translate(85.37,580.80) scale(0.95,1)"><text class="tk" x="0.00" y="0">50</text></g>
<g transform="translate(150.21,580.80) scale(0.95,1)"><use href="#one" transform="translate(0.00,0) scale(0.007324,-0.007324)"/><text class="tk" x="8.34" y="0">00</text></g>
<g transform="translate(219.01,580.80) scale(0.95,1)"><use href="#one" transform="translate(0.00,0) scale(0.007324,-0.007324)"/><text class="tk" x="8.34" y="0">50</text></g>
<g transform="translate(287.81,580.80) scale(0.95,1)"><text class="tk" x="0.00" y="0">200</text></g>
<g transform="translate(356.61,580.80) scale(0.95,1)"><text class="tk" x="0.00" y="0">250</text></g>
<g transform="translate(425.41,580.80) scale(0.95,1)"><text class="tk" x="0.00" y="0">300</text></g>
<g transform="translate(10.87,566.90) scale(0.95,1)"><text class="tk" x="0.00" y="0">0</text></g>
<g transform="translate(2.95,532.23) scale(0.95,1)"><text class="tk" x="0.00" y="0">25</text></g>
<g transform="translate(2.95,497.57) scale(0.95,1)"><text class="tk" x="0.00" y="0">50</text></g>
<g transform="translate(2.95,462.90) scale(0.95,1)"><text class="tk" x="0.00" y="0">75</text></g>
<g transform="translate(488.60,462.90) scale(0.95,1)"><use href="#one" transform="translate(0.00,0) scale(0.007324,-0.007324)"/></g>
<g transform="translate(488.60,514.90) scale(0.95,1)"><text class="tk" x="0.00" y="0">0</text></g>
<g transform="translate(488.60,566.90) scale(0.95,1)"><text class="tk" x="0.00" y="0">-</text><use href="#one" transform="translate(5.00,0) scale(0.007324,-0.007324)"/></g>
<text class="sg" x="334.0" y="479.6" textLength="10" lengthAdjust="spacingAndGlyphs">&#963;</text>
<text class="sb" x="343.5" y="482.6" textLength="12.9" lengthAdjust="spacingAndGlyphs">xy</text>
<text class="mp" x="364.9" y="479.3" textLength="47.7" lengthAdjust="spacingAndGlyphs">(MPa)</text>
<g transform="translate(537.54,445.50) scale(0.95,1)"><text class="tk" x="0.00" y="0">0</text></g>
<g transform="translate(602.27,445.50) scale(0.95,1)"><text class="tk" x="0.00" y="0">50</text></g>
<g transform="translate(667.00,445.50) scale(0.95,1)"><use href="#one" transform="translate(0.00,0) scale(0.007324,-0.007324)"/><text class="tk" x="8.34" y="0">00</text></g>
<g transform="translate(735.69,445.50) scale(0.95,1)"><use href="#one" transform="translate(0.00,0) scale(0.007324,-0.007324)"/><text class="tk" x="8.34" y="0">50</text></g>
<g transform="translate(804.38,445.50) scale(0.95,1)"><text class="tk" x="0.00" y="0">200</text></g>
<g transform="translate(873.07,445.50) scale(0.95,1)"><text class="tk" x="0.00" y="0">250</text></g>
<g transform="translate(941.76,445.50) scale(0.95,1)"><text class="tk" x="0.00" y="0">300</text></g>
<g transform="translate(527.87,430.90) scale(0.95,1)"><text class="tk" x="0.00" y="0">0</text></g>
<g transform="translate(519.95,395.90) scale(0.95,1)"><text class="tk" x="0.00" y="0">25</text></g>
<g transform="translate(519.95,360.90) scale(0.95,1)"><text class="tk" x="0.00" y="0">50</text></g>
<g transform="translate(519.95,325.90) scale(0.95,1)"><text class="tk" x="0.00" y="0">75</text></g>
<g transform="translate(1005.60,326.90) scale(0.95,1)"><use href="#one" transform="translate(0.00,0) scale(0.007324,-0.007324)"/></g>
<g transform="translate(1005.60,378.90) scale(0.95,1)"><text class="tk" x="0.00" y="0">0</text></g>
<g transform="translate(1005.60,430.90) scale(0.95,1)"><text class="tk" x="0.00" y="0">-</text><use href="#one" transform="translate(5.00,0) scale(0.007324,-0.007324)"/></g>
<text class="sg" x="857.4" y="346.8" textLength="10" lengthAdjust="spacingAndGlyphs">&#963;</text>
<text class="sb" x="867.2" y="349.8" textLength="13.6" lengthAdjust="spacingAndGlyphs">xx</text>
<text class="mp" x="889.1" y="346.5" textLength="46.9" lengthAdjust="spacingAndGlyphs">(MPa)</text>
<g transform="translate(537.54,580.80) scale(0.95,1)"><text class="tk" x="0.00" y="0">0</text></g>
<g transform="translate(602.27,580.80) scale(0.95,1)"><text class="tk" x="0.00" y="0">50</text></g>
<g transform="translate(667.00,580.80) scale(0.95,1)"><use href="#one" transform="translate(0.00,0) scale(0.007324,-0.007324)"/><text class="tk" x="8.34" y="0">00</text></g>
<g transform="translate(735.69,580.80) scale(0.95,1)"><use href="#one" transform="translate(0.00,0) scale(0.007324,-0.007324)"/><text class="tk" x="8.34" y="0">50</text></g>
<g transform="translate(804.38,580.80) scale(0.95,1)"><text class="tk" x="0.00" y="0">200</text></g>
<g transform="translate(873.07,580.80) scale(0.95,1)"><text class="tk" x="0.00" y="0">250</text></g>
<g transform="translate(941.76,580.80) scale(0.95,1)"><text class="tk" x="0.00" y="0">300</text></g>
<g transform="translate(527.87,566.90) scale(0.95,1)"><text class="tk" x="0.00" y="0">0</text></g>
<g transform="translate(519.95,531.90) scale(0.95,1)"><text class="tk" x="0.00" y="0">25</text></g>
<g transform="translate(519.95,496.90) scale(0.95,1)"><text class="tk" x="0.00" y="0">50</text></g>
<g transform="translate(519.95,461.90) scale(0.95,1)"><text class="tk" x="0.00" y="0">75</text></g>
<g transform="translate(1005.60,461.90) scale(0.95,1)"><use href="#one" transform="translate(0.00,0) scale(0.007324,-0.007324)"/></g>
<g transform="translate(1005.60,513.90) scale(0.95,1)"><text class="tk" x="0.00" y="0">0</text></g>
<g transform="translate(1005.60,565.90) scale(0.95,1)"><text class="tk" x="0.00" y="0">-</text><use href="#one" transform="translate(5.00,0) scale(0.007324,-0.007324)"/></g>
<text class="sg" x="850.5" y="479.9" textLength="10" lengthAdjust="spacingAndGlyphs">&#963;</text>
<text class="sb" x="860.0" y="482.9" textLength="12.9" lengthAdjust="spacingAndGlyphs">xy</text>
<text class="mp" x="881.4" y="479.6" textLength="47.7" lengthAdjust="spacingAndGlyphs">(MPa)</text>
<text class="ttl" x="178.8" y="306.0" textLength="126.4" lengthAdjust="spacingAndGlyphs">Fiber angle=0&#176;</text>
<text class="ttl" x="693.8" y="306.0" textLength="136.8" lengthAdjust="spacingAndGlyphs">Fiber angle=45&#176;</text>
<text class="ttl" x="173.8" y="614.2" textLength="136.8" lengthAdjust="spacingAndGlyphs">Fiber angle=75&#176;</text>
<text class="ttl" x="693.8" y="614.0" textLength="136.8" lengthAdjust="spacingAndGlyphs">Fiber angle=90&#176;</text></svg>
</body></html>
